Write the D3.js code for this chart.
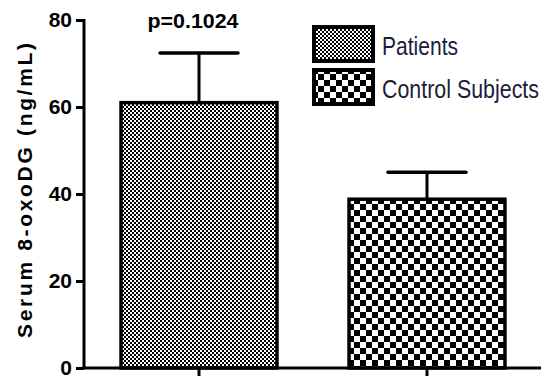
<!DOCTYPE html>
<html>
<head>
<meta charset="utf-8">
<script src="https://cdn.jsdelivr.net/npm/d3@7"></script>
<style>
  body { margin: 0; background: #fff; }
  svg { display: block; font-family: Arial, "Liberation Sans", sans-serif; }
</style>
</head>
<body>
<div id="chart"></div>
<script>
// data
const groups = ['Patients', 'Control Subjects'];
const means = [61, 38.8];
const sems = [11.4, 6.2];
const yTicks = [0, 20, 40, 60, 80];
const pLabel = 'p=0.1024';

const width = 541, height = 376;

const svg = d3.select('#chart').append('svg')
  .attr('width', width)
  .attr('height', height);

// hatch patterns
const defs = svg.append('defs');
function checker(id, size) {
  const p = defs.append('pattern')
    .attr('id', id)
    .attr('patternUnits', 'userSpaceOnUse')
    .attr('width', size * 2)
    .attr('height', size * 2);
  p.append('rect').attr('width', size * 2).attr('height', size * 2).attr('fill', '#fff');
  p.append('rect').attr('width', size).attr('height', size).attr('fill', '#000');
  p.append('rect').attr('x', size).attr('y', size).attr('width', size).attr('height', size).attr('fill', '#000');
}
checker('fine', 2);
checker('coarse', 6);
const fills = ['url(#fine)', 'url(#coarse)'];

var x = d3.scaleBand().domain(groups).range([85, 541]).paddingInner(0.316).paddingOuter(0.158);
var y = d3.scaleLinear().domain([0, 80]).range([368, 20]);

// bars
svg.selectAll('rect.bar')
  .data(groups)
  .enter()
  .append('rect')
  .attr('class', 'bar')
  .attr('x', d => x(d))
  .attr('y', (d, i) => y(means[i]))
  .attr('width', x.bandwidth())
  .attr('height', (d, i) => y(0) - y(means[i]))
  .attr('fill', (d, i) => fills[i])
  .attr('stroke', '#000')
  .attr('stroke-width', 3.5);

// error bars (upper only)
groups.forEach(function(d, i) {
  var cx = x(d) + x.bandwidth() / 2;
  var capW = x.bandwidth() * 0.5;
  svg.append('line')
    .attr('x1', cx).attr('x2', cx)
    .attr('y1', y(means[i])).attr('y2', y(means[i] + sems[i]))
    .attr('stroke', '#000').attr('stroke-width', 3);
  svg.append('line')
    .attr('x1', cx - capW / 2).attr('x2', cx + capW / 2)
    .attr('y1', y(means[i] + sems[i])).attr('y2', y(means[i] + sems[i]))
    .attr('stroke', '#000').attr('stroke-width', 3.5)
    .attr('stroke-linecap', 'round');
});

// y axis
var yAxis = d3.axisLeft(y).tickValues(yTicks).tickSize(8).tickPadding(4);
var gy = svg.append('g')
  .attr('transform', 'translate(84,0)')
  .call(yAxis);
gy.select('.domain').attr('stroke-width', 3).attr('d', 'M0,' + (y(80) - 1) + 'V' + y(0));
gy.selectAll('.tick line').attr('stroke-width', 3);
gy.selectAll('.tick text')
  .attr('font-size', 21)
  .attr('font-weight', 'bold')
  .attr('fill', '#000')
  .attr('font-family', 'Arial, "Liberation Sans", sans-serif');

// x axis baseline + ticks
var xAxis = d3.axisBottom(x).tickSize(8).tickFormat('');
var gx = svg.append('g')
  .attr('transform', 'translate(0,' + y(0) + ')')
  .call(xAxis);
gx.select('.domain').attr('stroke-width', 3).attr('d', 'M82.5,0H541');
gx.selectAll('.tick line').attr('stroke-width', 3);

// y title
svg.append('text')
  .attr('transform', 'translate(32,' + 190.5 + ') rotate(-90)')
  .attr('text-anchor', 'middle')
  .attr('font-size', 21)
  .attr('font-weight', 'bold')
  .attr('textLength', 295)
  .attr('lengthAdjust', 'spacing')
  .text('Serum 8-oxoDG (ng/mL)');

// p value
svg.append('text')
  .attr('x', x(groups[0]) + x.bandwidth() / 2 - 6)
  .attr('y', 28)
  .attr('text-anchor', 'middle')
  .attr('font-size', 20)
  .attr('font-weight', 'bold')
  .attr('textLength', 91)
  .attr('lengthAdjust', 'spacingAndGlyphs')
  .text(pLabel);

// legend
var legend = svg.append('g').attr('transform', 'translate(312,25)');
var legendTextW = [76, 157];
groups.forEach(function(d, i) {
  var g = legend.append('g').attr('transform', 'translate(0,' + i * 43 + ')');
  g.append('rect').attr('width', 63).attr('height', 38).attr('fill', '#000');
  g.append('rect').attr('x', 4).attr('y', 4).attr('width', 55).attr('height', 30).attr('fill', fills[i]);
  g.append('text')
    .attr('x', 70)
    .attr('y', 30)
    .attr('font-size', 25)
    .attr('fill', '#1c1c3c')
    .attr('textLength', legendTextW[i])
    .attr('lengthAdjust', 'spacingAndGlyphs')
    .text(d);
});
</script>
</body>
</html>
